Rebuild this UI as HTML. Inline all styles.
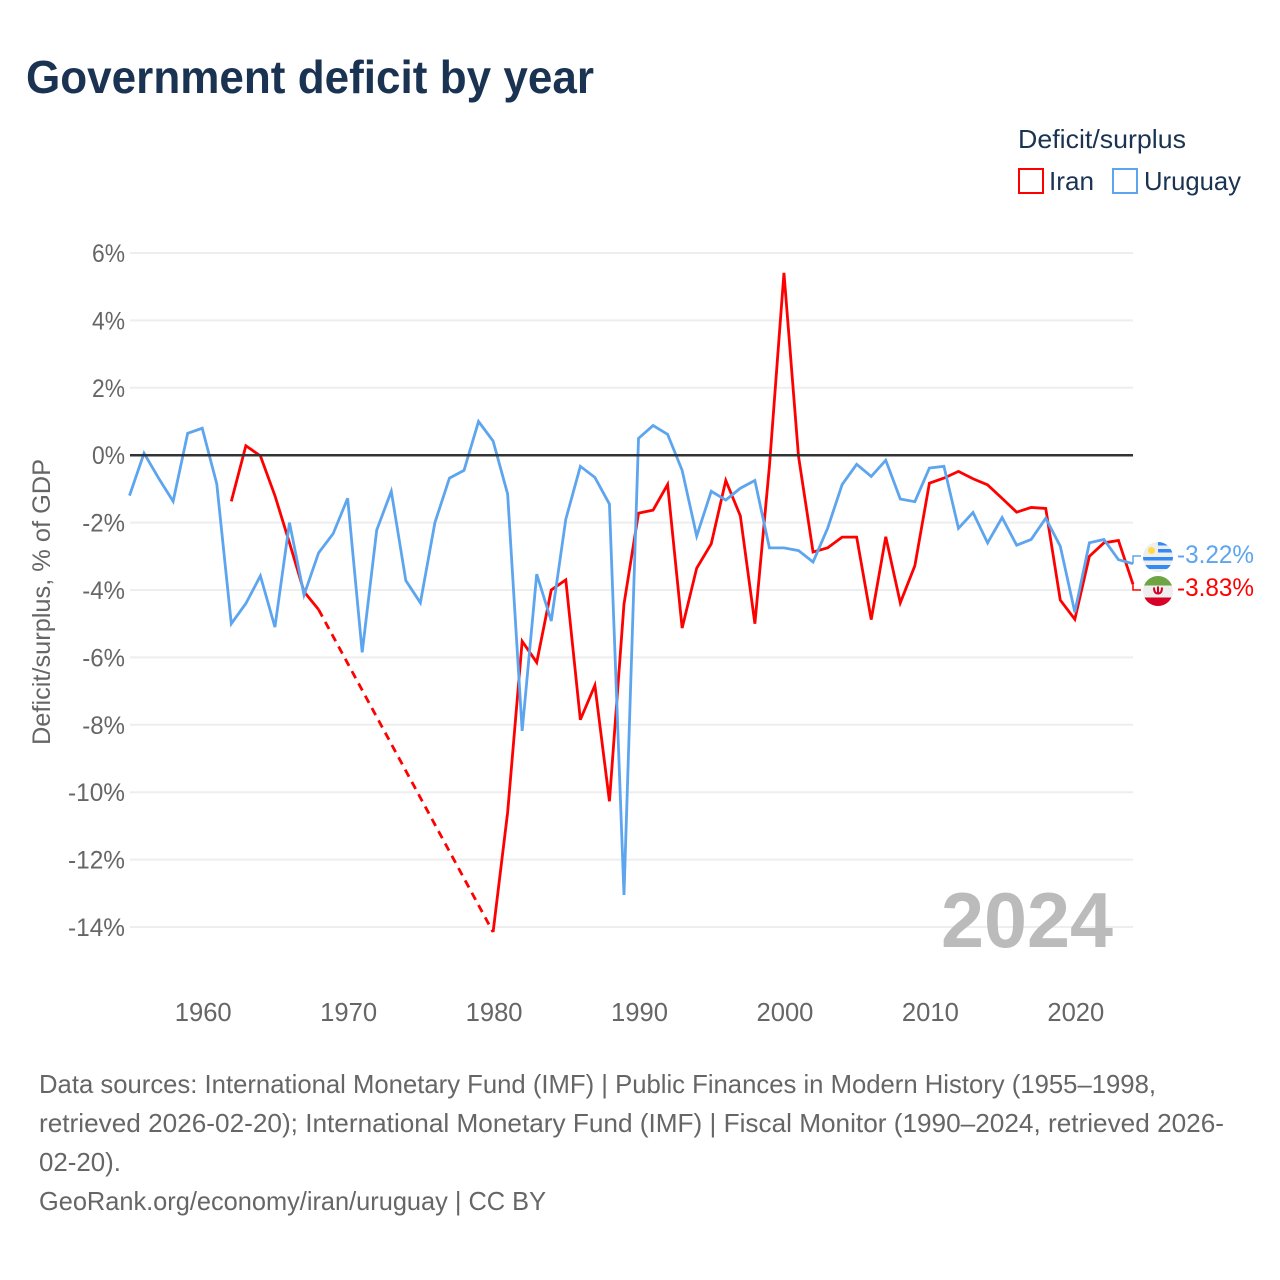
<!DOCTYPE html>
<html lang="en">
<head>
<meta charset="utf-8">
<title>Government deficit by year</title>
<style>
html,body{margin:0;padding:0;background:#fff;}
svg{display:block;font-family:"Liberation Sans",sans-serif;}
</style>
</head>
<body>
<svg id="chart" xmlns="http://www.w3.org/2000/svg" width="1280" height="1280" viewBox="0 0 1280 1280">
  <rect x="0" y="0" width="1280" height="1280" fill="#ffffff"/>
  <text x="26" y="93" font-size="46" font-weight="700" fill="#1a3352" textLength="568" lengthAdjust="spacingAndGlyphs">Government deficit by year</text>

  <g>
    <text x="1018" y="148" font-size="26" fill="#1a3352" textLength="168" lengthAdjust="spacingAndGlyphs">Deficit/surplus</text>
    <g>
      <rect x="1019" y="169" width="24" height="24" fill="none" stroke="#ff0000" stroke-width="2"/>
      <text x="1049" y="190" font-size="26" fill="#1a3352" textLength="45" lengthAdjust="spacingAndGlyphs">Iran</text>
    </g>
    <g>
      <rect x="1113" y="169" width="24" height="24" fill="none" stroke="#5da5ee" stroke-width="2"/>
      <text x="1144" y="190" font-size="26" fill="#1a3352" textLength="97" lengthAdjust="spacingAndGlyphs">Uruguay</text>
    </g>
  </g>

  <g id="grid"></g>
  <g id="y-ticks"></g>
  <g id="x-ticks"></g>
  <text transform="translate(50,745) rotate(-90)" x="0" y="0" font-size="25" fill="#666666" textLength="286" lengthAdjust="spacingAndGlyphs">Deficit/surplus, % of GDP</text>

  <text x="941" y="947" font-size="78" font-weight="700" fill="#bbbbbb" textLength="172" lengthAdjust="spacingAndGlyphs">2024</text>

  <g id="series"></g>
  <g id="zero"></g>
  <g id="connectors"></g>

  <defs>
    <clipPath id="clip-uy"><circle cx="1158" cy="557" r="15"/></clipPath>
    <clipPath id="clip-ir"><circle cx="1158" cy="591" r="15"/></clipPath>
  </defs>
  <g clip-path="url(#clip-uy)">
    <rect x="1143" y="542" width="30" height="30" fill="#eeeeee"/>
    <rect x="1158" y="542" width="15" height="3.500" fill="#338af3"/>
    <rect x="1158" y="549" width="15" height="3.500" fill="#338af3"/>
    <rect x="1143" y="557" width="30" height="3.500" fill="#338af3"/>
    <rect x="1143" y="565" width="30" height="4" fill="#338af3"/>
    <circle cx="1151.500" cy="550.500" r="3.500" fill="#ffda44"/>
  </g>
  <g clip-path="url(#clip-ir)">
    <rect x="1143" y="576" width="30" height="30" fill="#eeeeee"/>
    <rect x="1143" y="576" width="30" height="9.500" fill="#6da544"/>
    <rect x="1143" y="597.500" width="30" height="8.500" fill="#d80027"/>
    <path d="M1154 587.500c0 5 2 6 4 6s4-1 4-6M1158 586.500v8" fill="none" stroke="#d80027" stroke-width="2"/>
  </g>
  <text x="1177" y="563" font-size="25" fill="#5da5ee" textLength="77" lengthAdjust="spacingAndGlyphs">-3.22%</text>
  <text x="1177" y="596" font-size="25" fill="#ff0000" textLength="77" lengthAdjust="spacingAndGlyphs">-3.83%</text>

  <g font-size="26" fill="#666666">
    <text x="39" y="1093" textLength="1117" lengthAdjust="spacingAndGlyphs">Data sources: International Monetary Fund (IMF) | Public Finances in Modern History (1955–1998,</text>
    <text x="39" y="1132" textLength="1185" lengthAdjust="spacingAndGlyphs">retrieved 2026-02-20); International Monetary Fund (IMF) | Fiscal Monitor (1990–2024, retrieved 2026-</text>
    <text x="39" y="1171" textLength="82" lengthAdjust="spacingAndGlyphs">02-20).</text>
    <text x="39" y="1210" textLength="507" lengthAdjust="spacingAndGlyphs">GeoRank.org/economy/iran/uruguay | CC BY</text>
  </g>
</svg>

<script>
const firstYear = 1955;
const lastYear = 2024;
const yTickValues = [6, 4, 2, 0, -2, -4, -6, -8, -10, -12, -14];
const xTickYears = [1960, 1970, 1980, 1990, 2000, 2010, 2020];
const uruguayValues = [
  -1.2, 0.06, -0.68, -1.37, 0.65, 0.8, -0.85, -5.0, -4.4, -3.58,
  -5.1, -2.0, -4.15, -2.9, -2.33, -1.28, -5.85, -2.22, -1.07, -3.72,
  -4.38, -2.0, -0.68, -0.45, 1.0, 0.42, -1.15, -8.18, -3.53, -4.92,
  -1.9, -0.33, -0.66, -1.45, -13.05, 0.5, 0.88, 0.62, -0.45, -2.4,
  -1.07, -1.33, -0.98, -0.75, -2.75, -2.75, -2.83, -3.17, -2.17, -0.87,
  -0.27, -0.63, -0.15, -1.3, -1.38, -0.38, -0.33, -2.17, -1.7, -2.6,
  -1.85, -2.67, -2.5, -1.87, -2.7, -4.66, -2.6, -2.5, -3.1, -3.22
];
const iranValues = [
  null, null, null, null, null, null, null, -1.37, 0.28, -0.02,
  -1.2, -2.6, -4.05, -4.58, null, null, null, null, null, null,
  null, null, null, null, null, -14.15, -10.6, -5.52, -6.15, -4.0,
  -3.7, -7.85, -6.83, -10.27, -4.42, -1.72, -1.63, -0.87, -5.13, -3.35,
  -2.63, -0.75, -1.8, -5.0, -0.33, 5.41, -0.03, -2.87, -2.75, -2.43,
  -2.43, -4.88, -2.42, -4.38, -3.28, -0.83, -0.68, -0.48, -0.7, -0.88,
  -1.28, -1.69, -1.55, -1.58, -4.3, -4.87, -3.0, -2.6, -2.53, -3.83
];

const NS = 'http://www.w3.org/2000/svg';
const plotLeft = 130, plotRight = 1133, zeroY = 455.2, pxPerUnit = 33.7;
function xScale(year) {
  return 129.5 + (year - firstYear) * (plotRight - 129.5) / (lastYear - firstYear);
}
function yScale(value) {
  return zeroY - value * pxPerUnit;
}
function make(tag, attrs, parent) {
  const el = document.createElementNS(NS, tag);
  for (const k in attrs) el.setAttribute(k, attrs[k]);
  parent.appendChild(el);
  return el;
}

const grid = document.getElementById('grid');
const yTicks = document.getElementById('y-ticks');
const xTicks = document.getElementById('x-ticks');
yTickValues.forEach(function (v) {
  const line = make('line', {x1: plotLeft, x2: plotRight, y1: yScale(v), y2: yScale(v), stroke: '#eeeeee', 'stroke-width': 2}, grid);
  
  
  const text = v + '%';
  const width = String(Math.abs(v)).length * 14.3 + 18.7 + (v < 0 ? 9.7 : 0);
  const label = make('text', {x: 125 - width, y: yScale(v) + 9, 'font-size': 25, fill: '#666666', textLength: width.toFixed(1), lengthAdjust: 'spacingAndGlyphs'}, yTicks);
  
  
  label.textContent = text;
});
xTickYears.forEach(function (yr) {
  const label = make('text', {x: xScale(yr) + 1, y: 1021, 'text-anchor': 'middle', 'font-size': 25.6, fill: '#666666'}, xTicks);
  
  
  label.textContent = yr;
});

const seriesGroup = document.getElementById('series');
function drawSeries(values, color, name) {
  let solid = '';
  let dashed = '';
  let prev = null;
  values.forEach(function (v, i) {
    if (v === null) return;
    const px = xScale(firstYear + i).toFixed(2);
    const py = yScale(v).toFixed(2);
    if (prev === null) {
      solid += 'M' + px + ' ' + py;
    } else if (prev.i === i - 1) {
      solid += 'L' + px + ' ' + py;
    } else {
      dashed += 'M' + prev.px + ' ' + prev.py + 'L' + px + ' ' + py;
      solid += 'M' + px + ' ' + py;
    }
    prev = {i: i, px: px, py: py};
  });
  const line = make('path', {d: solid, fill: 'none', stroke: color, 'stroke-width': 2.8}, seriesGroup);
  
  
  if (dashed) {
    const gap = make('path', {d: dashed, fill: 'none', stroke: color, 'stroke-width': 2.8, 'stroke-dasharray': '8 6'}, seriesGroup);
    
    
  }
}
drawSeries(iranValues, '#ff0000', 'iran');
drawSeries(uruguayValues, '#5da5ee', 'uruguay');

const zeroLine = make('line', {x1: plotLeft, x2: plotRight, y1: yScale(0), y2: yScale(0), stroke: '#333333', 'stroke-width': 2.5}, document.getElementById('zero'));



const connectors = document.getElementById('connectors');
function drawConnector(values, color, targetY, name) {
  const endY = yScale(values[values.length - 1]);
  const c = make('path', {d: 'M' + plotRight + ' ' + endY + 'V' + targetY + 'H1141', fill: 'none', stroke: color, 'stroke-width': 1.5}, connectors);
  
  
}
drawConnector(uruguayValues, '#5da5ee', 556, 'uruguay');
drawConnector(iranValues, '#ff0000', 590, 'iran');
</script>
</body>
</html>
